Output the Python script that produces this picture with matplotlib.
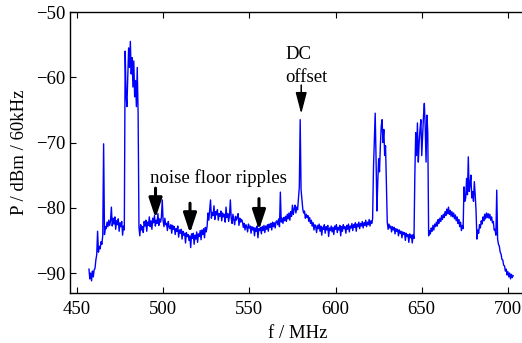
import matplotlib
matplotlib.use("Agg")
import matplotlib.pyplot as plt
import numpy as np

plt.rcParams['font.family'] = ['Liberation Serif', 'DejaVu Serif']
plt.rcParams['axes.unicode_minus'] = True

# ---- data, 0.5 MHz spacing per segment ----
step = 0.5
seg_a_start = 457.0
seg_a = [-89.4, -90.9, -90.0, -91.2, -89.7, -90.6, -89.5, -89.3, -88.0, -87.2,
         -83.6, -86.8, -85.9, -86.3, -85.2, -85.6, -84.2, -70.2, -84.1, -82.9,
         -83.2, -82.2, -82.9, -81.9, -82.7, -82.0]
seg_b_start = 470.0
seg_b = [-79.9, -82.8, -81.6, -82.5, -81.4, -83.3, -82.0, -82.6, -81.7, -83.6,
         -82.3, -82.9, -82.1, -84.2, -82.8, -83.4]
seg_c_start = 478.0
seg_c = [-56.0, -62.5, -64.5, -60.0, -55.5, -58.5, -54.5, -59.5, -57.0, -61.5,
         -57.5, -63.0, -60.5, -64.5, -58.5, -65.5]
seg_d_start = 486.0
seg_d = [-83.0, -84.3, -82.6, -83.4, -82.9, -83.8, -82.1, -82.8, -81.9, -83.6,
         -82.2, -82.7, -81.4, -82.9, -82.0, -83.3, -81.6, -82.3, -81.2, -82.8,
         -81.9, -82.4, -80.9, -82.7, -81.7, -82.2, -81.5, -78.8]
seg_e_start = 500.0
seg_e = [-82.0, -82.9, -81.6, -82.6, -82.4, -83.5, -82.1, -82.9, -83.2, -82.6,
         -83.9, -82.7, -83.3, -82.9, -84.1, -83.2, -83.6, -82.8, -84.5, -83.4,
         -83.9, -83.3, -84.8, -83.6, -84.2, -83.9, -85.4, -83.8, -84.4, -84.1,
         -85.0, -84.3, -86.1, -84.0, -84.7, -83.9, -85.6, -84.2, -84.8, -83.7,
         -85.3, -84.0, -84.4, -83.5, -84.9, -83.4, -84.1, -83.2, -84.6, -83.0,
         -83.7, -82.9]
seg_f_start = 526.0
seg_f = [-80.8, -81.9, -80.4, -78.8, -81.6, -80.7, -81.2, -79.7, -81.8, -80.6,
         -81.1, -80.3, -81.9, -80.9, -81.3, -80.5, -82.0, -80.8, -81.4, -81.0,
         -82.2, -79.9, -81.5, -80.9, -82.1, -81.2, -78.8, -81.6, -82.4, -81.0,
         -81.8, -82.6, -81.3, -81.9, -81.5, -80.9, -82.7, -81.6, -82.2, -81.8]
seg_g_start = 546.0
seg_g = [-82.1, -83.0, -82.4, -83.4, -82.6, -82.9, -83.7, -82.5, -83.1, -82.8,
         -83.9, -82.9, -83.4, -83.0, -84.3, -83.1, -83.6, -82.8, -84.6, -83.2,
         -83.5, -83.0, -84.0, -82.9, -83.5, -82.7, -83.8, -82.8, -83.3, -82.6,
         -83.6, -82.5, -83.0, -82.4, -83.4, -82.2, -82.9, -82.3, -83.1, -82.1]
seg_h_start = 566.0
seg_h = [-82.0, -82.6, -81.7, -82.9, -77.6, -82.2, -81.6, -82.4, -81.5, -82.0,
         -81.3, -82.1, -81.0, -81.7, -80.8, -81.9, -80.6, -81.3, -79.6, -81.0,
         -80.2, -79.6, -80.8, -79.9, -80.3, -78.6, -76.8, -66.5, -77.2, -78.8,
         -80.2, -80.8, -80.5, -81.6, -81.0, -81.5, -81.2, -82.1, -81.5, -82.4]
seg_i_start = 586.0
seg_i = [-81.9, -82.8, -82.3, -83.4, -82.6, -82.9, -83.8, -82.7, -83.2, -82.5,
         -83.6, -82.8, -84.2, -83.0, -83.3, -82.6, -83.9, -82.9, -83.4, -82.7,
         -84.4, -83.1, -83.5, -82.8, -83.7, -83.0, -84.1, -82.8, -83.3, -82.6,
         -83.8, -83.0, -83.4, -82.7, -84.3, -82.9, -83.6, -82.6, -83.2, -82.9,
         -83.9, -82.7, -83.3, -82.5, -83.7, -82.8, -83.1, -82.4, -83.5, -82.6,
         -83.0, -82.3, -83.6, -82.5, -82.9, -82.2, -83.2, -82.4, -82.8, -82.1,
         -83.1, -82.3, -82.7, -81.9, -82.9, -82.2, -82.6, -81.8, -82.8, -82.0,
         -82.4, -81.7]
seg_j_start = 622.0
seg_j = [-74.0, -70.0, -65.5, -72.5, -80.5, -76.0, -72.5, -74.5, -70.5, -67.5,
         -66.5, -70.0, -68.0, -72.0, -70.5, -76.5]
seg_k_start = 630.0
seg_k = [-82.2, -83.3, -82.5, -83.1, -82.8, -83.7, -82.9, -83.4, -83.0, -84.0,
         -83.2, -83.6, -83.3, -84.3, -83.4, -83.9, -83.6, -84.6, -83.7, -84.1,
         -83.8, -85.0, -83.9, -84.4, -84.1, -85.3, -84.0, -84.6, -84.2, -85.4,
         -84.1, -84.7]
seg_l_start = 646.0
seg_l = [-75.0, -68.5, -72.0, -67.0, -73.0, -70.0, -68.0, -66.5, -72.0, -69.0,
         -66.0, -64.0, -67.5, -73.0, -65.8, -68.5]
seg_m_start = 654.0
seg_m = [-84.3, -83.5, -84.0, -83.1, -83.6, -82.7, -83.4, -82.5, -82.9, -82.2,
         -82.8, -81.8, -82.4, -81.6, -82.1, -81.2, -81.8, -81.0, -81.5, -80.6,
         -81.2, -80.2, -80.9, -79.9, -81.0, -80.4, -81.3, -80.6, -81.4, -80.8,
         -81.7, -81.1, -82.0, -81.4, -82.4, -81.8, -82.9, -82.2, -83.5, -82.7,
         -83.2]
seg_n_start = 674.5
seg_n = [-76.8, -79.0, -78.5, -75.5, -78.0, -72.2, -77.5, -76.5, -75.0, -78.5,
         -77.5, -79.0, -76.0, -78.0, -80.5]
seg_o_start = 682.0
seg_o = [-84.8, -83.4, -83.9, -82.6, -83.1, -82.0, -82.5, -81.4, -82.0, -81.0,
         -81.7, -80.8, -81.5, -80.9, -81.6, -81.0, -81.9, -81.4, -82.3, -82.1,
         -83.4, -83.3, -84.2, -77.3, -84.8, -85.6, -85.9, -86.8, -87.1, -87.9,
         -88.0, -88.8, -88.9, -89.7, -89.4, -90.3, -89.8, -90.6, -90.0, -90.9,
         -90.2, -90.7, -90.4]

segments = [(seg_a_start, seg_a), (seg_b_start, seg_b), (seg_c_start, seg_c),
            (seg_d_start, seg_d), (seg_e_start, seg_e), (seg_f_start, seg_f),
            (seg_g_start, seg_g), (seg_h_start, seg_h), (seg_i_start, seg_i),
            (seg_j_start, seg_j), (seg_k_start, seg_k), (seg_l_start, seg_l),
            (seg_m_start, seg_m), (seg_n_start, seg_n), (seg_o_start, seg_o)]

f_all = np.concatenate([s + step * np.arange(len(v)) for s, v in segments])
p_all = np.concatenate([np.asarray(v, float) for s, v in segments])

x_ticks = [450, 500, 550, 600, 650, 700]
y_ticks = [-90, -80, -70, -60, -50]

# ---- figure ----
fig = plt.figure(figsize=(5.22, 3.43), dpi=100)
W, H = 522.0, 343.0
ax = fig.add_axes([70 / W, 50.4 / H, 455.2 / W, 280.6 / H])
ax.plot(f_all, p_all, color='#0000ff', lw=1.0)
ax.set_xlim(446, 710)
ax.set_ylim(-93, -50)
ax.set_xticks(x_ticks)
ax.set_yticks(y_ticks)
fs = 13.5
ax.spines['right'].set_visible(False)
ax.tick_params(direction='in', length=4, width=0.8, top=True, right=False,
               labelsize=fs, pad=3)
ax.tick_params(axis='x', pad=6)
for sp in ax.spines.values():
    sp.set_linewidth(1.0)
ax.set_xlabel('f / MHz', fontsize=fs, labelpad=5)
ax.set_ylabel('P / dBm / 60kHz', fontsize=fs, labelpad=6)

# annotations
thick = dict(arrowstyle='-|>,head_length=1.2,head_width=0.4', lw=2.2,
             color='k', shrinkA=0, shrinkB=0, mutation_scale=10)
for xa, ytop, ytip in [(495.6, -77.0, -81.6), (515.6, -79.3, -83.9),
                       (555.6, -78.6, -83.4)]:
    ax.annotate('', xy=(xa, ytip), xytext=(xa, ytop), arrowprops=thick)
ax.text(492.5, -76.2, 'noise floor ripples', fontsize=fs, ha='left',
        va='baseline')

thin = dict(arrowstyle='-|>,head_length=1.3,head_width=0.34', lw=1.1,
            color='k', shrinkA=0, shrinkB=0, mutation_scale=10)
ax.annotate('', xy=(580.1, -65.6), xytext=(580.1, -61.2), arrowprops=thin)
ax.text(571.2, -57.2, 'DC', fontsize=fs, ha='left', va='baseline')
ax.text(571.0, -60.7, 'offset', fontsize=fs, ha='left', va='baseline')

fig.savefig('out.png', dpi=100)
